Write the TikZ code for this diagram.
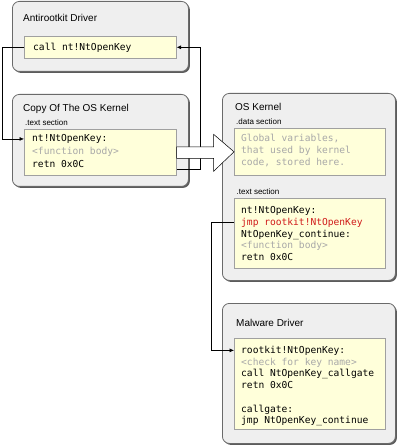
\documentclass[tikz,border=0pt]{standalone}
\usepackage{fontspec}
\setmainfont{Liberation Sans}
\newfontfamily\codefont{DejaVu Sans Mono}
\usetikzlibrary{arrows.meta,calc,shadows}
\definecolor{boxgray}{HTML}{EFEFEF}
\definecolor{boxedge}{HTML}{6A6A6A}
\definecolor{codebg}{HTML}{FFFFDA}
\definecolor{codeedge}{HTML}{A0A0A0}
\definecolor{dimtext}{HTML}{A8A8A8}
\definecolor{hottext}{HTML}{D01A1A}
\definecolor{shadowc}{HTML}{4A4A4A}
\begin{document}
\begin{tikzpicture}[x=1pt,y=-1pt,
 outerbox/.style={draw=boxedge, line width=0.8pt, fill=boxgray, rounded corners=7pt, anchor=north west, inner sep=0pt,
   drop shadow={shadow xshift=1.5pt, shadow yshift=-1.5pt, fill=shadowc, opacity=0.9}},
 codebox/.style={draw=codeedge, line width=0.6pt, fill=codebg, anchor=north west, inner sep=0pt},
 title/.style={anchor=base west, inner sep=0pt, font=\fontsize{10}{11}\selectfont},
 sect/.style={anchor=base west, inner sep=0pt, font=\fontsize{8}{9}\selectfont},
 code/.style={anchor=base west, inner sep=0pt, font=\codefont\fontsize{9.6}{11}\selectfont},
 dim/.style={code, text=dimtext},
 hot/.style={code, text=hottext},
 wire/.style={draw=black, line width=0.6pt, -{Latex[length=4.5pt,width=4pt]}},
 bigarrow/.style={draw=black, line width=0.5pt, fill=white, line join=miter}]
\useasboundingbox (0,0) rectangle (400,446);

% outer boxes
\node[outerbox, minimum width=176pt, minimum height=70pt] (ao) at (12,1) {};
\node[outerbox, minimum width=176pt, minimum height=92pt] (co) at (12,94) {};
\node[outerbox, minimum width=173pt, minimum height=187pt] (ko) at (222,93) {};
\node[outerbox, minimum width=173pt, minimum height=140pt] (mo) at (222,303) {};

% inner boxes
\node[codebox, minimum width=152pt, minimum height=22pt] (ai) at (24,36) {};
\node[codebox, minimum width=152pt, minimum height=46pt] (ci) at (24,129) {};
\node[codebox, minimum width=151pt, minimum height=47pt] (kd) at (234,128) {};
\node[codebox, minimum width=151pt, minimum height=70pt] (kt) at (234,198) {};
\node[codebox, minimum width=151pt, minimum height=91pt] (mi) at (234,338) {};

% titles and section labels
\node[title] (at) at (23,21.5) {Antirootkit Driver};
\node[title] (ct) at (23,111.5) {Copy Of The OS Kernel};
\node[title] (kti) at (235,110.5) {OS Kernel};
\node[title] (mt) at (236,326) {Malware Driver};
\node[sect] (cs) at (25,125.5) {.text section};
\node[sect] (kds) at (236,124.5) {.data section};
\node[sect] (kts) at (236.5,194.5) {.text section};

% code
\node[code] (a1) at (33,50.5) {call nt!NtOpenKey};

\node[code] (c1) at (32,141.5) {nt!NtOpenKey:};
\node[dim]  (c2) at (32,155) {<function body>};
\node[code] (c3) at (32,167.5) {retn 0x0C};

\node[dim] (d1) at (241,141.5) {Global variables,};
\node[dim] (d2) at (241,153.5) {that used by kernel};
\node[dim] (d3) at (241,165.5) {code, stored here.};

\node[code] (k1) at (241,213) {nt!NtOpenKey:};
\node[hot]  (k2) at (241,225) {jmp rootkit!NtOpenKey};
\node[code] (k3) at (241,237) {NtOpenKey\_continue:};
\node[dim]  (k4) at (241,248.5) {<function body>};
\node[code] (k5) at (241,260) {retn 0x0C};

\node[code] (m1) at (241,353) {rootkit!NtOpenKey:};
\node[dim]  (m2) at (241,365) {<check for key name>};
\node[code] (m3) at (241,376.5) {call NtOpenKey\_callgate};
\node[code] (m4) at (241,388) {retn 0x0C};
\node[code] (m5) at (241,412) {callgate:};
\node[code] (m6) at (241,423.5) {jmp NtOpenKey\_continue};

% routing coordinates
\coordinate (L) at (2.5,0);
\coordinate (R) at (200,0);
\coordinate (J) at (211,0);

% connectors
\draw[wire] (ai.west) -- (ai.west -| L) |- (ci.west |- c1);
\draw[wire] ($(ci.east)+(0,17)$) -| (R |- ai.east) -- (ai.east);
\draw[wire] (kt.west |- k2) -| (J |- m1) -- (mi.west |- m1);

% big hollow arrow (copy -> OS kernel)
\draw[bigarrow] ($(ci.east)+(0,-5.5)$) -- ++(37,0) -- ++(0,-12.5) -- (kd.west)
  -- ($(ci.east)+(37,19)$) -- ++(0,-13) -- ($(ci.east)+(0,6)$) -- cycle;
\end{tikzpicture}
\end{document}
